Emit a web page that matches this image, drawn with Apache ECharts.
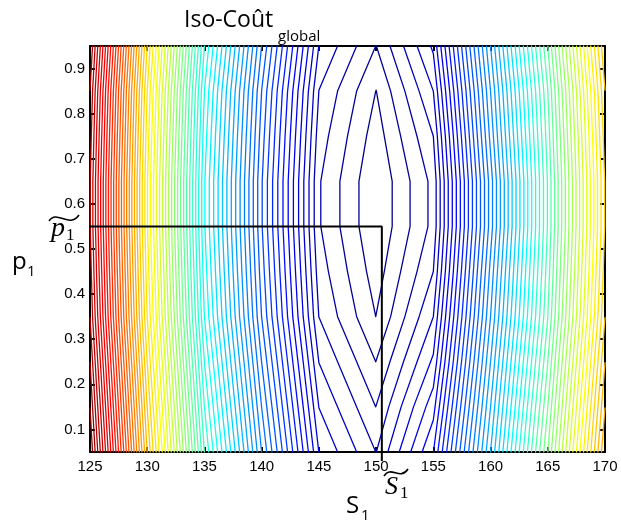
<!DOCTYPE html>
<html>
<head>
<meta charset="utf-8">
<script src="https://cdn.jsdelivr.net/npm/echarts@6/dist/echarts.min.js"></script>
<style>
  html, body { margin: 0; background: #fff; }
  #chart { width: 621px; height: 525px; }
</style>
</head>
<body>
<div id="chart"></div>
<script>
// grille du coût global (en unités de niveau de contour)
const s1Values = [125, 130, 135, 140, 145, 150, 155, 160, 165, 170]
const p1Values = [0.05, 0.15, 0.25, 0.35, 0.45, 0.55, 0.65, 0.75, 0.85, 0.95]
// une ligne par p1, une colonne par S1
const costGrid = [
  [71.98, 49.98, 30.98, 17.98, 6.98, 3.98, 8.98, 22.0, 35.98, 51.98],
  [70.98, 48.98, 29.98, 16.98, 5.98, 2.98, 7.6, 21.0, 34.98, 50.98],
  [69.98, 47.98, 28.98, 15.98, 4.98, 1.98, 6.2, 20.0, 33.98, 49.98],
  [68.98, 46.98, 27.98, 14.98, 3.98, 0.98, 5.0, 19.0, 32.98, 48.98],
  [68.5, 46.5, 27.5, 14.5, 3.5, 0.5, 4.0, 18.3, 32.5, 48.5],
  [68.1, 46.1, 27.1, 14.1, 3.1, 0.1, 3.3, 17.5, 32.1, 48.1],
  [68.1, 46.1, 27.1, 14.1, 3.1, 0.1, 3.3, 17.5, 32.1, 48.1],
  [68.5, 46.5, 27.5, 14.5, 3.5, 0.5, 4.0, 18.3, 32.5, 48.5],
  [68.98, 46.98, 27.98, 14.98, 3.98, 0.98, 5.0, 19.0, 32.98, 48.98],
  [69.98, 47.98, 28.98, 15.98, 4.98, 1.98, 6.2, 20.0, 33.98, 49.98]
]
const levelCount = 71
const contourLevels = Array.from({ length: levelCount }, (_, k) => k + 1)
const sTilde = 150.5
const pTilde = 0.55
const xTicks = [125, 130, 135, 140, 145, 150, 155, 160, 165, 170]
const yTicks = [0.1, 0.2, 0.3, 0.4, 0.5, 0.6, 0.7, 0.8, 0.9]

// colormap jet de matlab
function jet(v) {
  const c = x => Math.round(255 * Math.max(0, Math.min(1, x)))
  const r = c(1.5 - Math.abs(4 * v - 3))
  const g = c(1.5 - Math.abs(4 * v - 2))
  const b = c(1.5 - Math.abs(4 * v - 1))
  return 'rgb(' + r + ',' + g + ',' + b + ')'
}

// marching squares sur la grille
function segmentsAt(level) {
  const segs = []
  for (let j = 0; j < p1Values.length - 1; j++) {
    for (let i = 0; i < s1Values.length - 1; i++) {
      const c = [
        [s1Values[i], p1Values[j], costGrid[j][i]],
        [s1Values[i + 1], p1Values[j], costGrid[j][i + 1]],
        [s1Values[i + 1], p1Values[j + 1], costGrid[j + 1][i + 1]],
        [s1Values[i], p1Values[j + 1], costGrid[j + 1][i]]
      ]
      const pts = []
      for (let e = 0; e < 4; e++) {
        const a = c[e], b = c[(e + 1) % 4]
        if ((a[2] < level) !== (b[2] < level)) {
          const t = (level - a[2]) / (b[2] - a[2])
          pts.push([a[0] + t * (b[0] - a[0]), a[1] + t * (b[1] - a[1])])
        }
      }
      if (pts.length === 2) segs.push(pts)
      else if (pts.length === 4) {
        const mid = (c[0][2] + c[1][2] + c[2][2] + c[3][2]) / 4
        if ((mid < level) === (c[0][2] < level)) {
          segs.push([pts[0], pts[1]], [pts[2], pts[3]])
        } else {
          segs.push([pts[3], pts[0]], [pts[1], pts[2]])
        }
      }
    }
  }
  return segs
}

// relie les segments en polylignes
function chain(segs) {
  const same = (a, b) => Math.abs(a[0] - b[0]) < 1e-9 && Math.abs(a[1] - b[1]) < 1e-9
  const lines = []
  const left = segs.slice()
  while (left.length) {
    const line = left.pop().slice()
    let grown = true
    while (grown) {
      grown = false
      for (let k = 0; k < left.length; k++) {
        const s = left[k]
        const head = line[0], tail = line[line.length - 1]
        if (same(s[0], tail)) line.push(s[1])
        else if (same(s[1], tail)) line.push(s[0])
        else if (same(s[0], head)) line.unshift(s[1])
        else if (same(s[1], head)) line.unshift(s[0])
        else continue
        left.splice(k, 1)
        grown = true
        break
      }
    }
    lines.push(line)
  }
  return lines
}

let zMin = Infinity, zMax = -Infinity
costGrid.forEach(row => row.forEach(v => { zMin = Math.min(zMin, v); zMax = Math.max(zMax, v) }))

const series = []
contourLevels.forEach(level => {
  const color = jet((level - zMin) / (zMax - zMin))
  chain(segmentsAt(level)).forEach(line => {
    series.push({
      type: 'line',
      data: line,
      showSymbol: false,
      silent: true,
      clip: true,
      lineStyle: { color: color, width: 1.3, cap: 'round', join: 'round' },
      z: 2
    })
  })
})

series.push({
  type: 'line',
  data: [[124.6, pTilde], [sTilde, pTilde], [sTilde, 0.03]],
  showSymbol: false,
  silent: true,
  clip: false,
  lineStyle: { color: '#000', width: 2 },
  z: 5
})

const tickFont = { color: '#000', fontSize: 15, fontFamily: 'Liberation Sans' }
const boxLine = { show: true, onZero: false, lineStyle: { color: '#000', width: 2 } }
const tickStyle = { color: '#000', width: 2 }

const option = {
  animation: false,
  backgroundColor: '#fff',
  grid: { left: 90, right: 16, top: 46, bottom: 73 },
  xAxis: [
    {
      type: 'value', min: 125, max: 170, interval: 5,
      axisLine: boxLine,
      axisTick: { inside: true, length: 5, lineStyle: tickStyle },
      axisLabel: Object.assign({ margin: 7, customValues: xTicks }, tickFont),
      splitLine: { show: false }
    },
    {
      type: 'value', position: 'top', min: 125, max: 170, interval: 5,
      axisLine: boxLine,
      axisTick: { inside: true, length: 5, lineStyle: tickStyle },
      axisLabel: { show: false },
      splitLine: { show: false }
    }
  ],
  yAxis: [
    {
      type: 'value', min: 0.05, max: 0.95,
      axisLine: boxLine,
      axisTick: { inside: true, length: 5, customValues: yTicks, lineStyle: tickStyle },
      axisLabel: Object.assign({ margin: 5, customValues: yTicks }, tickFont),
      splitLine: { show: false }
    },
    {
      type: 'value', position: 'right', min: 0.05, max: 0.95,
      axisLine: boxLine,
      axisTick: { inside: true, length: 5, customValues: yTicks, lineStyle: tickStyle },
      axisLabel: { show: false },
      splitLine: { show: false }
    }
  ],
  graphic: [
    { type: 'text', left: 184, top: 9, style: { text: 'Iso-Coût', font: '23px "Open Sans"', fill: '#000' } },
    { type: 'text', left: 278, top: 29, style: { text: 'global', font: '15px "Open Sans"', fill: '#000' } },
    { type: 'text', left: 12, top: 250, style: { text: 'p', font: '24px "Open Sans"', fill: '#000' } },
    { type: 'text', left: 27, top: 264, style: { text: '1', font: '15px "Open Sans"', fill: '#000' } },
    { type: 'text', left: 346, top: 494, style: { text: 'S', font: '24px "Open Sans"', fill: '#000' } },
    { type: 'text', left: 361, top: 508, style: { text: '1', font: '15px "Open Sans"', fill: '#000' } },
    { type: 'text', left: 51, top: 215, style: { text: 'p', font: 'italic 28px "Liberation Serif"', fill: '#000' } },
    { type: 'text', left: 66, top: 227, style: { text: '1', font: '17px "Liberation Serif"', fill: '#000' } },
    { type: 'bezierCurve', shape: { x1: 49, y1: 221, cpx1: 57, cpy1: 209, cpx2: 69, cpy2: 229, x2: 79, y2: 215 }, style: { stroke: '#000', lineWidth: 1.6, fill: null } },
    { type: 'text', left: 385, top: 474, style: { text: 'S', font: 'italic 26px "Liberation Serif"', fill: '#000' } },
    { type: 'text', left: 400, top: 485, style: { text: '1', font: '17px "Liberation Serif"', fill: '#000' } },
    { type: 'bezierCurve', shape: { x1: 384, y1: 476, cpx1: 391, cpy1: 465, cpx2: 400, cpy2: 481, x2: 408, y2: 469 }, style: { stroke: '#000', lineWidth: 1.6, fill: null } }
  ],
  series: series
}

const chart = echarts.init(document.getElementById('chart'), null, { renderer: 'canvas' })
chart.setOption(option)
</script>
</body>
</html>
